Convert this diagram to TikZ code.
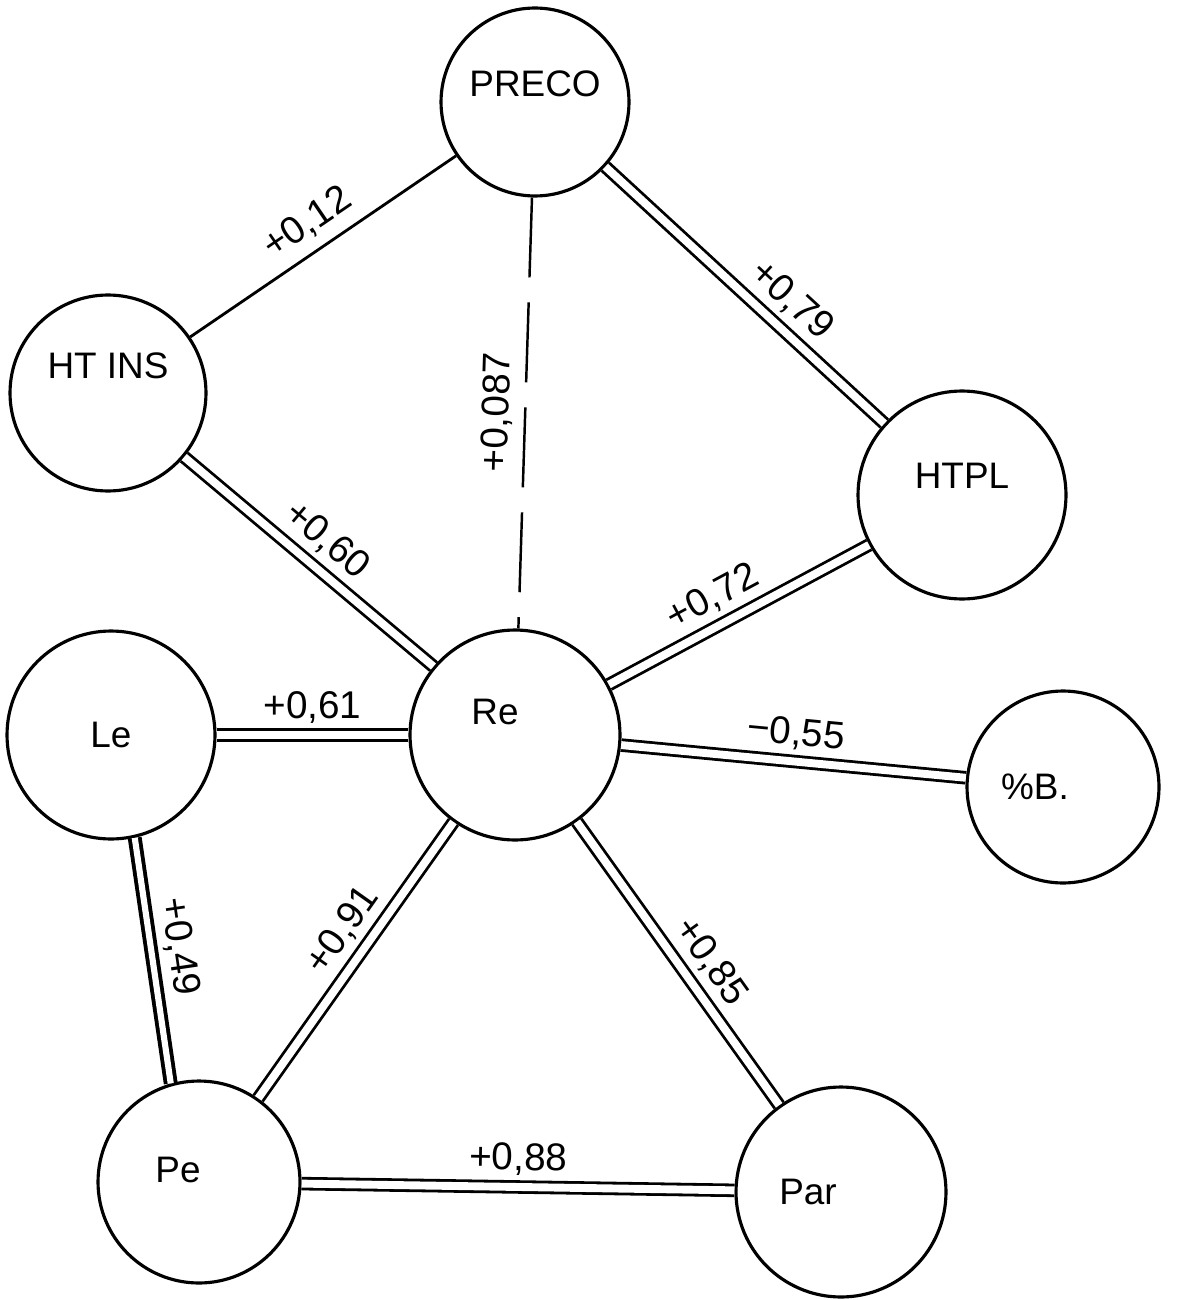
\documentclass[tikz,border=0pt]{standalone}
\usepackage{fontspec}
\setmainfont{Liberation Sans}
\tikzstyle{place}=[draw, circle, line width=1.8pt, inner sep=0pt]
\tikzstyle{tag}=[font=\fontsize{21}{24}\selectfont]
\tikzstyle{link}=[double, line width=1.6pt, double distance=4.5pt]
\tikzstyle{coef}=[font=\fontsize{22}{24}\selectfont, sloped, above=4pt, inner sep=2pt]

\begin{document}
\begin{tikzpicture}[x=0.02cm, y=-0.02cm]
\useasboundingbox (0,0) rectangle (1189,1300);
\draw (535,102) node[place, minimum size=3.76cm,
  label={[tag, yshift=0.36cm]center:PRECO}](preco){};
\draw (108,393) node[place, minimum size=3.92cm,
  label={[tag, yshift=0.54cm]center:HT INS}](htins){};
\draw (962,495) node[place, minimum size=4.16cm,
  label={[tag, yshift=0.38cm]center:HTPL}](htpl){};
%
\draw (111,735) node[place, minimum size=4.16cm,
  label={[tag]center:Le}](le){};
\draw (515,735) node[place, minimum size=4.2cm,
  label={[tag, xshift=-0.4cm, yshift=0.46cm]center:Re}](re){};
\draw (1063,787) node[place, minimum size=3.84cm,
  label={[tag, xshift=-0.56cm]center:\%B.}](pctb){};
%
\draw (199,1182) node[place, minimum size=4.04cm,
  label={[tag, xshift=-0.42cm, yshift=0.24cm]center:Pe}](pe){};
\draw (841,1192) node[place, minimum size=4.2cm,
  label={[tag, xshift=-0.66cm]center:Par}](par){};
%
\draw[line width=1.6pt] (htins) -- node[coef]{+0,12} (preco);
\draw[link] (preco) -- node[coef, pos=0.6]{+0,79} (htpl);
\draw[line width=1.4pt, dash pattern=on 1.6cm off 0.5cm] (preco) -- node[coef]{+0,087} (re);
\draw[link] (htins) -- node[coef]{+0,60} (re);
\draw[link] (re) -- node[coef, pos=0.45]{+0,72} (htpl);
\draw[link] (le) -- node[coef]{+0,61} (re);
\draw[link] (re) -- node[coef]{\char"2212 0,55} (pctb);
%
\draw[link, line width=2.2pt, double distance=3.5pt] (le.-77) -- node[coef, pos=0.46]{+0,49} (pe.106);
\draw[link] (re) -- node[coef, pos=0.45]{+0,91} (pe);
\draw[link] (re) -- node[coef, pos=0.55]{+0,85} (par);
\draw[link] (pe) -- node[coef]{+0,88} (par);
\end{tikzpicture}
\end{document}
